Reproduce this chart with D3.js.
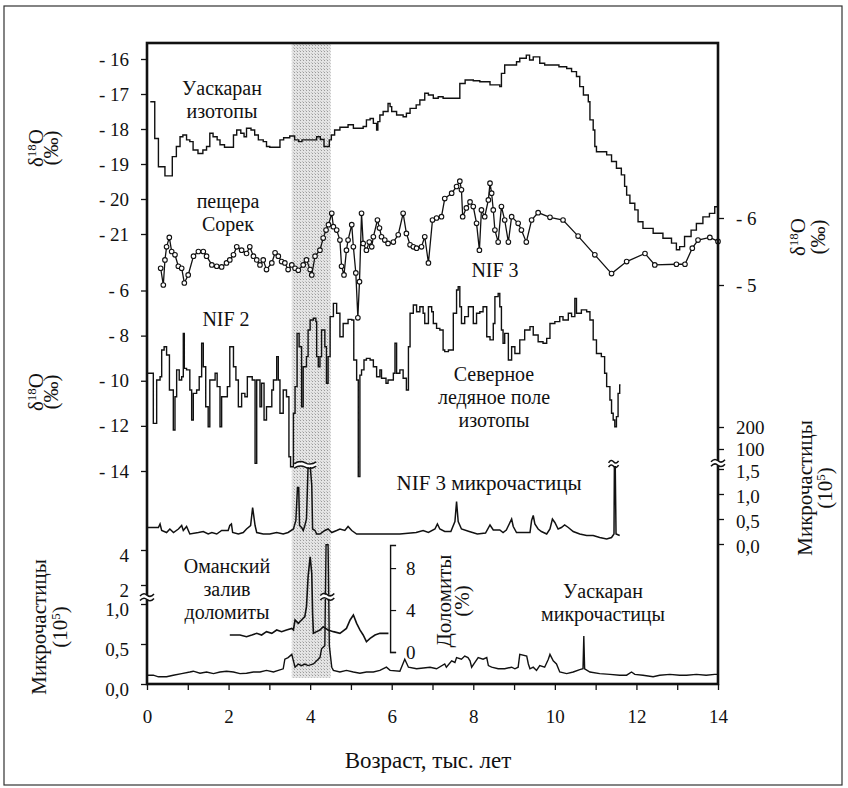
<!DOCTYPE html>
<html><head><meta charset="utf-8">
<script src="https://cdn.jsdelivr.net/npm/d3@7"></script>
<style>
body{margin:0;background:#fff;}
svg text{font-family:"Liberation Serif","Times New Roman",serif;fill:#111;}
</style></head><body>
<svg id="c" width="848" height="788"></svg>
<script>
// ---------- DATA (age in ka) ----------
const xTicks = [0,1,2,3,4,5,6,7,8,9,10,11,12,13,14];
const uaskIsoTicks = [-16,-17,-18,-19,-20,-21];
const nifIsoTicks = [-6,-8,-10,-12,-14];
const sorekTicks = [-6,-5];
const nifMicroTicksLow = [0,0.5,1.0,1.5];
const nifMicroTicksHigh = [100,200];
const uaskMicroTicks = [0,0.5,1.0,2,4];
const dolTicks = [0,4,8];
const band = [3.55,4.5];

// Uaskaran isotopes (δ18O, ‰), stepped
const uaskIso = [[0.08,-17.22],[0.19,-18.27],[0.28,-19.08],[0.44,-19.34],[0.62,-18.79],[0.72,-18.5],[0.81,-18.22],[0.88,-18.17],[0.97,-18.31],[1.05,-18.36],[1.13,-18.6],[1.25,-18.7],[1.37,-18.6],[1.46,-18.5],[1.54,-18.12],[1.62,-18.22],[1.72,-18.31],[1.79,-18.45],[1.9,-18.52],[2.12,-18.17],[2.2,-18.03],[2.3,-18.12],[2.38,-18.22],[2.44,-17.98],[2.55,-18.03],[2.64,-18.17],[2.73,-18.31],[2.85,-18.36],[2.93,-18.5],[3.01,-18.52],[3.26,-18.31],[3.35,-18.25],[3.5,-18.2],[3.62,-18.31],[3.72,-18.36],[3.8,-18.31],[4.16,-18.22],[4.25,-18.3],[4.34,-18.5],[4.47,-18.31],[4.52,-18.17],[4.6,-18.03],[4.73,-17.95],[4.93,-17.88],[5.06,-17.98],[5.3,-17.93],[5.38,-17.74],[5.47,-17.7],[5.55,-17.84],[5.63,-18.03],[5.66,-17.79],[5.71,-17.6],[5.79,-17.5],[5.91,-17.27],[5.96,-17.36],[6.0,-17.5],[6.12,-17.6],[6.28,-17.65],[6.36,-17.55],[6.45,-17.41],[6.6,-17.31],[6.69,-17.17],[6.81,-16.98],[6.9,-17.03],[7.02,-17.12],[7.14,-17.08],[7.26,-17.12],[7.67,-16.7],[7.8,-16.6],[8.0,-16.62],[8.16,-16.65],[8.41,-16.74],[8.65,-16.79],[8.69,-16.41],[8.77,-16.17],[9.06,-16.08],[9.14,-15.98],[9.3,-15.89],[9.38,-16.03],[9.47,-15.94],[9.63,-16.12],[9.75,-16.17],[10.1,-16.22],[10.29,-16.27],[10.41,-16.36],[10.53,-16.5],[10.61,-16.79],[10.7,-17.03],[10.82,-17.22],[10.86,-17.74],[10.94,-18.03],[10.98,-18.5],[11.02,-18.65],[11.27,-18.74],[11.39,-18.93],[11.51,-19.12],[11.63,-19.31],[11.71,-19.64],[11.76,-19.89],[11.84,-20.12],[11.96,-20.31],[12.04,-20.65],[12.16,-20.84],[12.41,-20.98],[12.65,-21.12],[12.86,-21.26],[12.98,-21.45],[13.06,-21.36],[13.18,-21.07],[13.34,-20.89],[13.47,-20.7],[13.63,-20.51],[13.79,-20.41],[13.92,-20.22],[14.0,-20.13]];

// Soreq cave (δ18O, ‰), right axis, points
const sorek = [[0.335,-5.25],[0.4,-5.0],[0.44,-5.375],[0.48,-5.57],[0.547,-5.71],[0.605,-5.5],[0.686,-5.45],[0.768,-5.28],[0.85,-5.25],[0.915,-5.03],[1.01,-5.15],[1.14,-5.43],[1.26,-5.5],[1.38,-5.5],[1.46,-5.43],[1.59,-5.3],[1.71,-5.28],[1.83,-5.27],[1.95,-5.33],[2.03,-5.375],[2.12,-5.45],[2.2,-5.57],[2.32,-5.52],[2.44,-5.47],[2.52,-5.57],[2.61,-5.43],[2.69,-5.375],[2.77,-5.3],[2.85,-5.375],[2.93,-5.23],[3.06,-5.33],[3.14,-5.48],[3.22,-5.43],[3.3,-5.35],[3.38,-5.33],[3.46,-5.23],[3.55,-5.3],[3.63,-5.25],[3.71,-5.22],[3.83,-5.3],[3.91,-5.375],[4.0,-5.23],[4.04,-5.15],[4.12,-5.43],[4.24,-5.52],[4.32,-5.7],[4.39,-5.82],[4.45,-5.9],[4.53,-6.07],[4.57,-5.87],[4.65,-5.82],[4.73,-5.67],[4.77,-5.28],[4.83,-5.15],[4.89,-5.52],[4.93,-5.67],[5.02,-5.9],[5.06,-5.57],[5.12,-5.18],[5.17,-4.51],[5.21,-5.05],[5.26,-6.07],[5.3,-5.62],[5.38,-5.52],[5.45,-5.64],[5.51,-5.57],[5.55,-5.72],[5.65,-5.97],[5.7,-5.85],[5.75,-5.72],[5.83,-5.67],[5.91,-5.62],[6.04,-5.64],[6.16,-5.75],[6.28,-6.07],[6.36,-5.77],[6.45,-5.6],[6.53,-5.57],[6.61,-5.55],[6.73,-5.57],[6.81,-5.72],[6.9,-5.33],[7.0,-5.97],[7.1,-6.0],[7.22,-6.02],[7.3,-6.29],[7.47,-6.37],[7.59,-6.47],[7.67,-6.55],[7.71,-6.42],[7.74,-6.02],[7.83,-6.15],[7.92,-6.24],[8.0,-6.17],[8.08,-5.92],[8.15,-5.52],[8.2,-6.12],[8.28,-6.02],[8.37,-6.27],[8.41,-6.52],[8.45,-6.37],[8.49,-6.12],[8.53,-5.82],[8.61,-5.64],[8.69,-6.17],[8.77,-5.97],[8.86,-5.64],[8.94,-6.02],[9.1,-5.92],[9.18,-5.82],[9.3,-5.64],[9.43,-5.97],[9.59,-6.08],[9.88,-6.01],[10.2,-5.97],[10.57,-5.73],[10.98,-5.45],[11.39,-5.17],[11.76,-5.35],[12.21,-5.47],[12.45,-5.3],[12.98,-5.31],[13.19,-5.31],[13.37,-5.55],[13.51,-5.67],[13.8,-5.71],[14.0,-5.65]];

// Northern Ice Field isotopes NIF2/NIF3 (δ18O, ‰), stepped
const nifIso = [[0.0,-9.67],[0.155,-11.89],[0.237,-9.97],[0.32,-9.82],[0.36,-8.64],[0.42,-8.49],[0.48,-8.86],[0.55,-10.41],[0.645,-12.18],[0.686,-10.71],[0.727,-9.52],[0.79,-9.97],[0.85,-9.82],[0.89,-7.9],[0.915,-9.45],[0.97,-9.52],[1.05,-10.41],[1.095,-11.74],[1.135,-10.56],[1.217,-10.41],[1.28,-9.82],[1.34,-8.34],[1.38,-9.38],[1.44,-11.15],[1.5,-12.04],[1.54,-9.97],[1.67,-9.67],[1.72,-10.26],[1.79,-12.04],[1.83,-10.71],[1.97,-10.26],[2.03,-8.49],[2.12,-9.38],[2.18,-9.97],[2.24,-11.15],[2.32,-10.56],[2.4,-10.71],[2.46,-9.82],[2.58,-9.97],[2.65,-13.66],[2.69,-9.97],[2.77,-11.15],[2.81,-10.11],[2.87,-11.74],[2.93,-11.15],[3.06,-10.41],[3.1,-9.97],[3.18,-8.93],[3.22,-9.97],[3.26,-11.44],[3.34,-10.41],[3.42,-10.71],[3.48,-13.37],[3.52,-13.81],[3.59,-11.44],[3.63,-10.26],[3.68,-7.9],[3.73,-8.49],[3.79,-11.15],[3.83,-9.38],[3.91,-8.93],[3.95,-7.75],[4.0,-7.31],[4.08,-7.23],[4.14,-7.38],[4.16,-8.93],[4.2,-9.38],[4.24,-8.93],[4.28,-7.75],[4.36,-8.49],[4.4,-10.11],[4.44,-8.93],[4.49,-7.16],[4.57,-6.57],[4.65,-7.01],[4.73,-8.05],[4.81,-7.46],[4.93,-7.28],[5.02,-7.31],[5.07,-9.08],[5.14,-9.97],[5.18,-14.25],[5.22,-9.75],[5.26,-9.52],[5.32,-9.08],[5.38,-9.01],[5.47,-9.08],[5.55,-9.38],[5.63,-9.82],[5.71,-9.52],[5.75,-9.89],[5.86,-10.11],[5.91,-9.97],[6.04,-9.67],[6.08,-8.34],[6.12,-9.67],[6.2,-9.52],[6.28,-9.89],[6.36,-10.41],[6.41,-8.49],[6.45,-7.01],[6.53,-6.64],[6.61,-6.94],[6.69,-6.72],[6.77,-7.01],[6.81,-7.46],[6.9,-6.72],[6.98,-6.94],[7.02,-7.46],[7.1,-7.68],[7.18,-7.75],[7.26,-8.64],[7.3,-8.71],[7.39,-8.64],[7.51,-7.01],[7.59,-5.98],[7.63,-5.83],[7.67,-6.72],[7.71,-7.46],[7.79,-7.16],[7.88,-6.72],[8.0,-7.46],[8.08,-7.01],[8.16,-6.94],[8.24,-6.72],[8.33,-8.05],[8.41,-8.19],[8.49,-7.46],[8.53,-6.27],[8.61,-6.13],[8.65,-6.72],[8.69,-7.75],[8.73,-8.34],[8.77,-7.9],[8.86,-9.08],[8.94,-8.49],[9.02,-8.79],[9.14,-8.19],[9.26,-7.75],[9.39,-7.6],[9.47,-7.97],[9.59,-8.27],[9.71,-8.34],[9.8,-8.12],[9.88,-7.46],[10.0,-7.38],[10.12,-7.16],[10.2,-7.31],[10.33,-7.01],[10.41,-7.16],[10.49,-6.35],[10.53,-7.01],[10.65,-6.86],[10.78,-6.94],[10.86,-7.31],[10.94,-8.19],[11.02,-8.79],[11.14,-8.93],[11.22,-9.67],[11.27,-10.26],[11.35,-10.85],[11.39,-11.44],[11.43,-11.74],[11.47,-12.04],[11.51,-11.59],[11.55,-10.56],[11.59,-10.19],[11.61,-10.19]];

// NIF3 microparticles (10^5), right axis; 1.58 = beyond scale break
const nifMicro = [[0.0,0.33],[0.28,0.33],[0.32,0.4],[0.36,0.27],[0.48,0.23],[0.56,0.3],[0.65,0.23],[0.77,0.3],[0.85,0.37],[0.89,0.27],[0.97,0.35],[1.05,0.2],[1.26,0.23],[1.38,0.25],[1.5,0.2],[1.59,0.23],[1.71,0.2],[1.83,0.27],[1.99,0.27],[2.03,0.37],[2.07,0.4],[2.1,0.23],[2.24,0.2],[2.36,0.23],[2.44,0.3],[2.54,0.37],[2.59,0.73],[2.65,0.37],[2.69,0.23],[2.85,0.2],[3.01,0.2],[3.18,0.23],[3.34,0.2],[3.46,0.23],[3.59,0.3],[3.65,0.47],[3.69,1.13],[3.72,1.13],[3.74,0.37],[3.79,0.33],[3.83,0.27],[3.87,0.37],[3.91,0.5],[3.95,1.57],[4.0,1.58],[4.04,1.17],[4.06,0.3],[4.12,0.27],[4.16,0.2],[4.24,0.2],[4.36,0.27],[4.44,0.3],[4.53,0.23],[4.65,0.27],[4.73,0.3],[4.85,0.27],[4.93,0.35],[5.02,0.27],[5.14,0.2],[5.3,0.2],[5.7,0.2],[6.2,0.2],[6.6,0.23],[6.77,0.27],[6.9,0.23],[7.06,0.3],[7.12,0.4],[7.18,0.3],[7.3,0.25],[7.45,0.25],[7.55,0.45],[7.59,0.85],[7.63,0.45],[7.71,0.3],[7.9,0.25],[8.1,0.2],[8.3,0.22],[8.41,0.38],[8.49,0.28],[8.65,0.28],[8.73,0.23],[8.81,0.28],[8.94,0.5],[8.98,0.35],[9.06,0.23],[9.22,0.23],[9.39,0.23],[9.43,0.47],[9.47,0.57],[9.51,0.4],[9.59,0.3],[9.67,0.25],[9.8,0.2],[9.88,0.3],[9.94,0.5],[10.0,0.43],[10.08,0.3],[10.16,0.33],[10.24,0.38],[10.33,0.33],[10.45,0.25],[10.61,0.2],[10.78,0.17],[10.94,0.17],[11.1,0.13],[11.27,0.1],[11.39,0.13],[11.45,0.2],[11.46,1.58],[11.48,1.58],[11.5,0.2],[11.59,0.17]];

// Gulf of Oman dolomite (%)
const dolomite = [[2.03,1.62],[2.28,1.62],[2.44,1.46],[2.57,1.62],[2.69,1.78],[2.81,1.62],[2.93,1.94],[3.06,1.78],[3.18,2.1],[3.3,1.94],[3.42,2.1],[3.55,2.25],[3.59,2.1],[3.63,3.05],[3.71,2.73],[3.79,3.05],[3.87,3.37],[3.91,4.32],[3.95,7.17],[4.0,9.08],[4.04,7.49],[4.06,3.68],[4.08,1.78],[4.16,1.94],[4.24,2.1],[4.32,2.41],[4.44,2.1],[4.57,1.94],[4.73,1.78],[4.89,2.25],[4.98,3.05],[5.06,3.52],[5.14,2.73],[5.22,2.1],[5.3,1.62],[5.38,0.98],[5.47,1.3],[5.59,1.62],[5.71,1.78],[5.92,1.78]];

// Huascaran microparticles (10^5), bottom-left axis (values >1.4 above the break)
const uaskMicro = [[0.0,0.11],[0.155,0.11],[0.28,0.09],[0.48,0.09],[0.645,0.11],[0.85,0.13],[1.05,0.15],[1.135,0.16],[1.3,0.135],[1.46,0.15],[1.63,0.13],[1.79,0.15],[1.95,0.16],[2.12,0.15],[2.28,0.13],[2.44,0.135],[2.61,0.15],[2.77,0.15],[2.93,0.17],[3.1,0.15],[3.22,0.17],[3.34,0.19],[3.38,0.31],[3.46,0.33],[3.55,0.37],[3.59,0.29],[3.63,0.21],[3.71,0.25],[3.79,0.23],[3.87,0.25],[3.95,0.23],[4.08,0.25],[4.16,0.29],[4.24,0.33],[4.28,0.44],[4.36,0.48],[4.39,4.3],[4.44,4.3],[4.47,0.48],[4.53,0.21],[4.57,0.17],[4.73,0.15],[4.89,0.17],[5.06,0.15],[5.22,0.135],[5.38,0.15],[5.55,0.15],[5.71,0.17],[5.87,0.21],[5.96,0.17],[6.2,0.16],[6.32,0.31],[6.41,0.21],[6.61,0.19],[6.94,0.21],[7.1,0.19],[7.3,0.25],[7.34,0.21],[7.47,0.29],[7.55,0.27],[7.59,0.33],[7.71,0.31],[7.79,0.35],[7.87,0.33],[7.92,0.29],[7.96,0.21],[8.04,0.27],[8.12,0.33],[8.24,0.31],[8.33,0.33],[8.37,0.23],[8.45,0.21],[8.61,0.19],[8.77,0.19],[8.94,0.21],[9.02,0.19],[9.1,0.21],[9.14,0.37],[9.31,0.35],[9.35,0.25],[9.39,0.19],[9.47,0.21],[9.55,0.17],[9.63,0.23],[9.75,0.21],[9.84,0.31],[9.88,0.37],[9.96,0.29],[10.04,0.25],[10.12,0.15],[10.29,0.13],[10.45,0.15],[10.61,0.18],[10.69,0.19],[10.71,0.6],[10.73,0.19],[10.86,0.15],[11.1,0.13],[11.35,0.12],[11.59,0.11],[11.76,0.11],[11.88,0.15],[11.96,0.12],[12.16,0.11],[12.41,0.09],[12.57,0.11],[12.82,0.12],[13.06,0.11],[13.23,0.11],[13.47,0.12],[13.71,0.11],[13.92,0.12],[14.0,0.12]];

// ---------- LAYOUT ----------
const svg = d3.select("#c");
const L = 147, R = 718, T = 43, B = 684;
const x = d3.scaleLinear([0,14],[L,R]);
const yUI = d3.scaleLinear([-16,-21],[59,234]);
const ySor = d3.scaleLinear([-6,-5],[218,285]);
const yNIF = d3.scaleLinear([-6,-14],[290.5,471]);
const yNM = d3.scaleLinear([0,1.6],[544,464]);
const yNMup = d3.scaleLog([100,200],[449,427]);
const yUM = d3.scaleLinear([0,1.07,1.4,4.5],[B,598.4,595.5,541.25]);
const yDol = d3.scaleLinear([0,10.2],[652,545]);
const ink = "#111";

// outer border
svg.append("rect").attr("x",4).attr("y",6).attr("width",838).attr("height",779)
  .attr("fill","none").attr("stroke","#333").attr("stroke-width",1.2);

// stippled band
const defs = svg.append("defs");
const pat = defs.append("pattern").attr("id","dots").attr("width",3).attr("height",3).attr("patternUnits","userSpaceOnUse");
pat.append("rect").attr("width",3).attr("height",3).attr("fill","#e4e4e4");
pat.append("rect").attr("width",1).attr("height",1).attr("fill","#9a9a9a");
pat.append("rect").attr("x",2).attr("y",2).attr("width",1).attr("height",1).attr("fill","#c0c0c0");
svg.append("rect").attr("x",x(band[0])).attr("y",T).attr("width",x(band[1])-x(band[0])).attr("height",678-T).attr("fill","url(#dots)");

function trace(data, ys, curve, sw){
  svg.append("path").datum(data).attr("fill","none").attr("stroke",ink).attr("stroke-width",sw)
    .attr("stroke-linejoin","miter")
    .attr("d", d3.line().x(d=>x(d[0])).y(d=>ys(d[1])).curve(curve));
}
trace(uaskIso, yUI, d3.curveStepAfter, 1.4);
trace(nifIso, yNIF, d3.curveStepAfter, 1.4);
trace(sorek, ySor, d3.curveLinear, 1.3);
svg.append("g").selectAll("circle").data(sorek).join("circle")
  .attr("cx",d=>x(d[0])).attr("cy",d=>ySor(d[1])).attr("r",2.3)
  .attr("fill","#fff").attr("stroke",ink).attr("stroke-width",1.1);
trace(nifMicro, yNM, d3.curveLinear, 1.5);
trace(dolomite, yDol, d3.curveLinear, 1.6);
trace(uaskMicro, yUM, d3.curveLinear, 1.4);

// break marks
function breakMark(cx, cy, w){
  const g = svg.append("g");
  g.append("rect").attr("x",cx-w/2).attr("y",cy-2).attr("width",w).attr("height",4).attr("fill","#fff");
  [-2.2,2.2].forEach(o=>{
    g.append("path").attr("d",`M${cx-w/2},${cy+o+1} q${w/4},-4 ${w/2},-1 t${w/2},-1`)
      .attr("fill","none").attr("stroke",ink).attr("stroke-width",1.5);
  });
}

// frame
svg.append("rect").attr("x",L).attr("y",T).attr("width",R-L).attr("height",B-T)
  .attr("fill","none").attr("stroke",ink).attr("stroke-width",2.6);

breakMark(x(3.88), yNM(1.6)+1, 22);
breakMark(x(11.44), yNM(1.6), 10);
breakMark(x(4.42), yUM(1.25), 14);
breakMark(L, yUM(1.2), 14);
breakMark(R, yNM(1.62), 14);

// axes
const fmtNeg = d => "- " + Math.abs(d);
const fmtComma = d => d3.format(".1f")(d).replace(".",",");
function styleAxis(g, fs){
  g.attr("font-family",null).attr("font-size",null);
  g.select(".domain").remove();
  g.selectAll(".tick line").attr("stroke",ink).attr("stroke-width",1.3);
  g.selectAll(".tick text").attr("fill",ink).attr("font-size",fs||19);
}
svg.append("g").attr("transform",`translate(${L},0)`)
  .call(d3.axisLeft(yUI).tickValues(uaskIsoTicks).tickSize(6).tickPadding(12).tickFormat(fmtNeg)).call(styleAxis);
svg.append("g").attr("transform",`translate(${L},0)`)
  .call(d3.axisLeft(yNIF).tickValues(nifIsoTicks).tickSize(6).tickPadding(12).tickFormat(fmtNeg)).call(styleAxis);
svg.append("g").attr("transform",`translate(${L},0)`)
  .call(d3.axisLeft(yUM).tickValues(uaskMicroTicks).tickSize(6).tickPadding(12)
    .tickFormat(d => d>=2 ? String(d) : fmtComma(d))).call(styleAxis)
  .selectAll(".tick text").attr("dy","0.62em");
svg.append("g").attr("transform",`translate(${R},0)`)
  .call(d3.axisRight(ySor).tickValues(sorekTicks).tickSize(6).tickPadding(12).tickFormat(fmtNeg)).call(styleAxis);
svg.append("g").attr("transform",`translate(${R},0)`)
  .call(d3.axisRight(yNM).tickValues(nifMicroTicksLow).tickSize(6).tickPadding(12).tickFormat(fmtComma)).call(styleAxis)
  .selectAll(".tick text").attr("dy","0.45em");
svg.append("g").attr("transform",`translate(${R},0)`)
  .call(d3.axisRight(yNMup).tickValues(nifMicroTicksHigh).tickSize(6).tickPadding(12).tickFormat(d3.format("d"))).call(styleAxis);
svg.append("g").attr("transform",`translate(0,${B})`)
  .call(d3.axisBottom(x).tickValues(xTicks).tickSize(6).tickPadding(20).tickFormat(d => d%2===0 ? d : "")).call(styleAxis);
// dolomite bracket axis
const dg = svg.append("g").attr("transform",`translate(${x(5.96)},0)`)
  .call(d3.axisRight(yDol).tickValues(dolTicks).tickSizeInner(6).tickSizeOuter(6).tickPadding(10).tickFormat(d3.format("d")));
dg.attr("font-family",null).attr("font-size",null);
dg.select(".domain").attr("stroke",ink).attr("stroke-width",1.4);
dg.selectAll(".tick line").attr("stroke",ink).attr("stroke-width",1.2);
dg.selectAll(".tick text").attr("fill",ink).attr("font-size",19);

// ---------- TEXT ----------
function block(xp, yp, lines, fs, lh){
  const t = svg.append("text").attr("x",xp).attr("y",yp).attr("font-size",fs).attr("text-anchor","middle");
  lines.forEach((s,i)=> t.append("tspan").attr("x",xp).attr("dy", i===0?0:lh).text(s));
  return t;
}
block(222,94.5,["Уаскаран","изотопы"],20,23);
block(228,207.5,["пещера","Сорек"],20,23);
block(495,277,["NIF 3"],20,0);
block(226,326,["NIF 2"],20,0);
block(494,381,["Северное","ледяное поле","изотопы"],20,23);
block(489,490,["NIF 3 микрочастицы"],21,0);
block(227,572.5,["Оманский","залив","доломиты"],20,23);
block(603,598,["Уаскаран","микрочастицы"],20,23);
block(428,768,["Возраст, тыс. лет"],23,0);

// rotated axis titles: first line + second line shifted right (dy in rotated frame)
function rotBlock(xb, yc, parts2, first, gap){
  const t = svg.append("text").attr("transform",`translate(${xb},${yc}) rotate(-90)`)
    .attr("text-anchor","middle").attr("font-size",21);
  first(t);
  parts2(t, gap);
  return t;
}
function deltaFirst(t){
  t.append("tspan").attr("x",0).text("δ");
  t.append("tspan").attr("font-size",13).attr("dy",-7).text("18");
  t.append("tspan").attr("dy",7).text("O");
}
function permil(t, gap){ t.append("tspan").attr("x",0).attr("dy",gap).text("(‰)"); }
function microFirst(t){ t.append("tspan").attr("x",0).text("Микрочастицы"); }
function tenFive(t, gap){
  t.append("tspan").attr("x",0).attr("dy",gap).text("(10");
  t.append("tspan").attr("font-size",13).attr("dy",-7).text("5");
  t.append("tspan").attr("dy",7).text(")");
}
rotBlock(43,148,permil,deltaFirst,15);
rotBlock(43,392,permil,deltaFirst,15);
rotBlock(46,627,tenFive,microFirst,21);
rotBlock(805,237,permil,deltaFirst,20);
rotBlock(812,488,tenFive,microFirst,20);
rotBlock(451,601,(t,g)=>t.append("tspan").attr("x",0).attr("dy",g).text("(%)"),t=>t.append("tspan").attr("x",0).text("Доломиты"),18);
</script></body></html>
